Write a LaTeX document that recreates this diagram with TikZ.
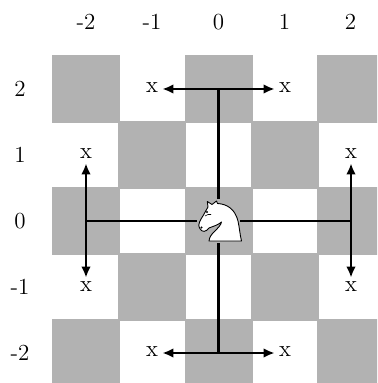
\documentclass[tikz,border=0pt]{standalone}
\usetikzlibrary{arrows.meta}
\begin{document}
\begin{tikzpicture}[x=0.5pt,y=-0.5pt,
  lab/.style={inner sep=0pt,font=\fontsize{11.5}{13}\selectfont},
  cell/.style={fill=black!30,draw=none},
  conn/.style={line width=1.1pt,black},
  arr/.style={conn,-{Latex[length=5.5pt,width=4.8pt]},shorten >=2pt},
  kn/.style={fill=white,draw=black,line width=0.45pt,line join=round}]
\useasboundingbox (0,0) rectangle (377,383);
\clip (0,0) rectangle (377,383);
\foreach \c/\cx in {-2/86,-1/152,0/218.5,1/284.5,2/350.5}{
  \node[lab] at (\cx,22) {\c};}
\foreach \r/\cy in {2/89,1/155,0/221,-1/287,-2/353}{
  \node[lab] at (20,\cy) {\r};}
\foreach \cx/\cy in {86/89,218.5/89,350.5/89,152/155,284.5/155,86/221,218.5/221,350.5/221,152/287,284.5/287,86/353,218.5/353,350.5/353}{
  \fill[cell] (\cx-34,\cy-34) rectangle (\cx+34,\cy+34);}
% target marks
\node[lab] (tl) at (152,88) {x};
\node[lab] (tr) at (285,88) {x};
\node[lab] (bl) at (152,352) {x};
\node[lab] (br) at (285,352) {x};
\node[lab] (lu) at (86,154) {x};
\node[lab] (ld) at (86,287) {x};
\node[lab] (ru) at (351,154) {x};
\node[lab] (rd) at (351,287) {x};
% knight anchor
\node[minimum size=21.5pt,inner sep=0pt] (k) at (218.5,221) {};
\coordinate (jt) at (218.5,89);
\coordinate (jb) at (218.5,353);
\coordinate (jl) at (86,221);
\coordinate (jr) at (351,221);
\draw[conn] (k.north) -- (jt);
\draw[conn] (k.south) -- (jb);
\draw[conn] (k.west) -- (jl);
\draw[conn] (k.east) -- (jr);
\draw[arr] (jt) -- (tl.east |- jt);
\draw[arr] (jt) -- (tr.west |- jt);
\draw[arr] (jb) -- (bl.east |- jb);
\draw[arr] (jb) -- (br.west |- jb);
\draw[arr] (jl) -- (jl |- lu.south);
\draw[arr] (jl) -- (jl |- ld.north);
\draw[arr] (jr) -- (jr |- ru.south);
\draw[arr] (jr) -- (jr |- rd.north);
% knight body
\draw[kn] (209,241) .. controls (209.5,237) and (211,235) .. (214,232)
  .. controls (218,228) and (221,225) .. (221.5,222)
  .. controls (218,225) and (214,226) .. (209,228)
  .. controls (206,232) and (202,233) .. (199.5,228)
  .. controls (197,225) and (201,219) .. (203.5,215)
  .. controls (205,212) and (207,209) .. (208,207)
  .. controls (207.5,205) and (207,204) .. (207.3,201.5)
  -- (212,204.5) -- (216.5,201)
  .. controls (216.8,202) and (217,203) .. (217.5,203.5)
  .. controls (227,204) and (235,209) .. (238,221)
  .. controls (239.5,228) and (240,235) .. (241.5,241)
  -- cycle;
\draw[line width=0.3pt] (205,216) .. controls (207,214.5) and (209,214) .. (211,214.5);
\fill (201.5,227.5) circle (0.6pt);
\fill (207,212) circle (0.6pt);
\end{tikzpicture}
\end{document}
